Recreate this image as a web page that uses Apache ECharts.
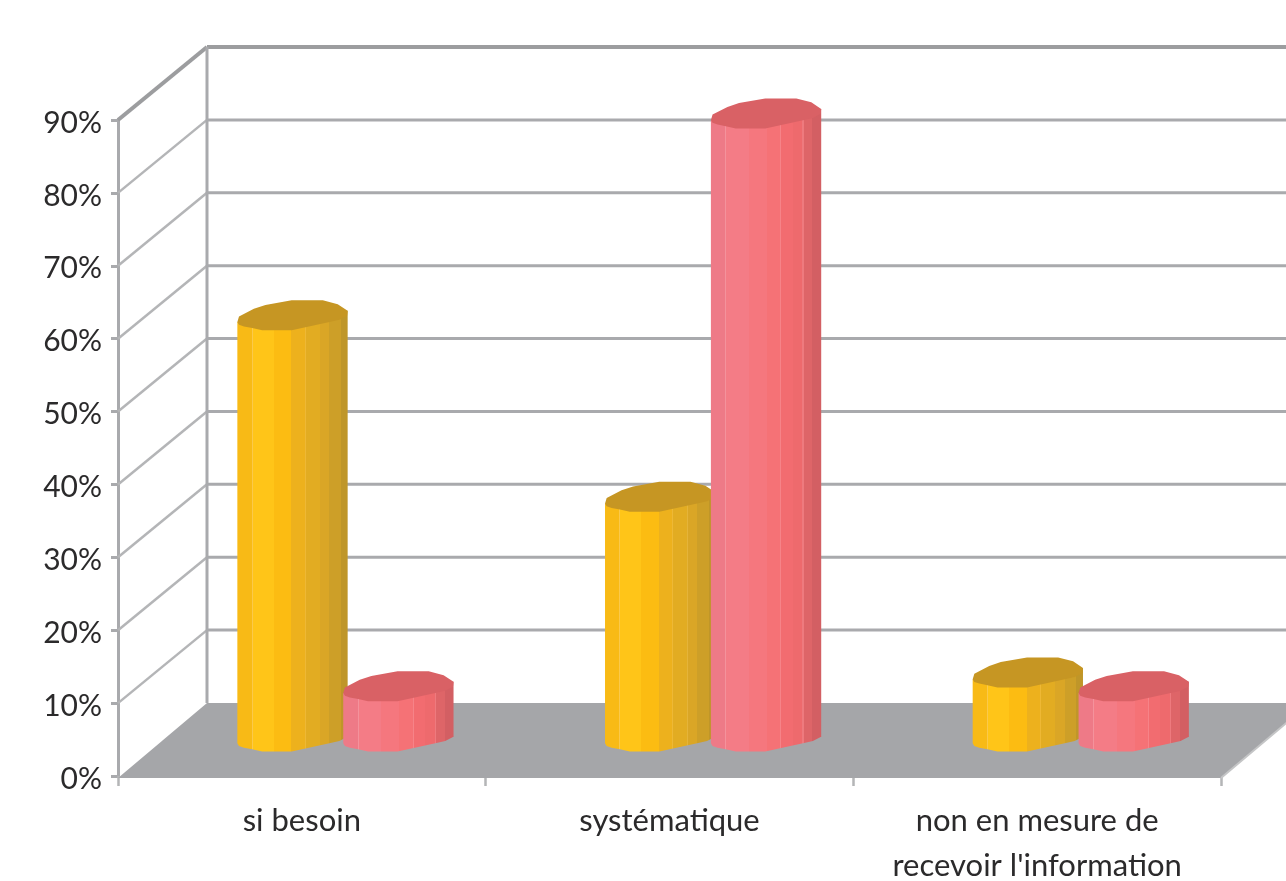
<!DOCTYPE html>
<html>
<head>
<meta charset="utf-8">
<style>html,body{margin:0;padding:0;background:#fff}#chart{width:1286px;height:881px}</style>
<script src="https://cdn.jsdelivr.net/npm/echarts@6/dist/echarts.min.js"></script>
</head>
<body>
<div id="chart"></div>
<script>
// Chart values, in percent
const categories = ['si besoin', 'systématique', "non en mesure de\nrecevoir l'information"];
const yellowValues = [57.8, 32.9, 8.8];
const redValues = [6.9, 85.5, 6.9];
const tickValues = [0, 10, 20, 30, 40, 50, 60, 70, 80, 90];

// Oblique projection of the box: how far the back wall sits from the front plane
const DEPTH_X = 89;
const DEPTH_Y = -73;
const CYL_DEPTH = 0.54;
const CYL_WIDTH_RATIO = 0.3;
const CYL_CAP_HALF = 15;

// Faceted cap outline, in units of half width / half height, clockwise from the left
const capOutline = [
  [-1, .45], [-.97, .08], [-.70, -.43], [-.49, -.69], [-.015, -1], [.55, -1], [.82, -.74], [1, -.30],
  [.99, .03], [.85, .30], [.67, .45], [-.015, 1], [-.55, 1], [-.73, .85], [-.88, .74], [-.97, .63]
];
const frontOutline = capOutline.slice(8);

// Vertical facets of each cylinder: [end of facet across the width, colour]
const yellowFacets = [[.13, '#F8BA16'], [.14, '#FBC94A'], [.33, '#FFC518'], [.49, '#FCBC12'], [.61, '#EDB11D'],
  [.62, '#EEB835'], [.745, '#E2AC22'], [.75, '#E5B43A'], [.835, '#DAA626'], [.94, '#CD9F28'], [1, '#BF9629']];
const redFacets = [[.13, '#EE7A87'], [.14, '#F4929C'], [.345, '#F47C86'], [.51, '#F5777E'], [.63, '#F57276'],
  [.64, '#F68388'], [.74, '#F26C70'], [.83, '#EE6A6D'], [.84, '#EE7A7E'], [.92, '#DE6568'], [1, '#D35F63']];
const yellowCap = '#C69623';
const redCap = '#D96165';

const wallColor = '#A9AAAD';
const diagColor = '#B4B5B7';
const floorColor = '#A5A6A9';
const textColor = '#2B2A2B';

function facetGradient(facets) {
  const stops = [];
  let start = 0;
  facets.forEach(([end, color]) => {
    stops.push({ offset: start, color }, { offset: end, color });
    start = end;
  });
  return { type: 'linear', x: 0, y: 0, x2: 1, y2: 0, colorStops: stops };
}

// Draws one cylinder standing about halfway into the floor's depth
function cylinderSeries(values, side, facets, capColor, name) {
  return {
    name,
    type: 'custom',
    z: 5,
    encode: { x: 0, y: 1 },
    data: values.map((v, i) => [i, v]),
    renderItem(params, api) {
      const cat = api.value(0);
      const top = api.coord([cat, api.value(1)]);
      const base = api.coord([cat, 0]);
      const w = api.size([1, 0])[0] * CYL_WIDTH_RATIO;
      const cx = top[0] + DEPTH_X * 0.49 + side * w * 0.48;
      const topY = top[1] + DEPTH_Y * CYL_DEPTH;
      const baseY = base[1] + DEPTH_Y * CYL_DEPTH;
      const hw = w / 2;
      const bodyPts = [[cx - hw, topY + .45 * CYL_CAP_HALF], [cx + hw, topY - .3 * CYL_CAP_HALF]];
      bodyPts.push([cx + hw, baseY + .03 * CYL_CAP_HALF]);
      frontOutline.forEach(p => bodyPts.push([cx + p[0] * hw, baseY + p[1] * CYL_CAP_HALF]));
      bodyPts.push([cx - hw, baseY + .45 * CYL_CAP_HALF]);
      const capPts = capOutline.map(p => [cx + p[0] * hw, topY + p[1] * CYL_CAP_HALF]);
      return {
        type: 'group',
        children: [
          { type: 'polygon', shape: { points: bodyPts }, style: { fill: facetGradient(facets) } },
          { type: 'polygon', shape: { points: capPts }, style: { fill: capColor } }
        ]
      };
    }
  };
}

const option = {
  animation: false,
  backgroundColor: '#ffffff',
  grid: { left: 118, right: 65, top: 120, bottom: 105, containLabel: false, outerBoundsMode: 'none' },
  xAxis: {
    type: 'category',
    data: categories,
    boundaryGap: true,
    axisLine: { show: false },
    axisTick: { show: true, alignWithLabel: false, length: 10, lineStyle: { color: '#B4B5B7', width: 2.5 } },
    axisLabel: {
      interval: 0, color: textColor, fontFamily: 'Lato', fontSize: 31, lineHeight: 45, margin: 22
    }
  },
  yAxis: {
    type: 'value',
    min: 0,
    max: 90,
    interval: 10,
    axisLine: { show: true, lineStyle: { color: wallColor, width: 3 } },
    axisTick: { show: true, length: 7, lineStyle: { color: wallColor, width: 3 } },
    splitLine: { show: false },
    axisLabel: {
      formatter: v => `{pct|${v}%}`,
      margin: 16,
      rich: { pct: { color: textColor, fontFamily: 'Lato', fontSize: 30, padding: [6, 0, 0, 0] } }
    }
  },
  series: [
    {
      // Side and back wall gridlines at every tick
      name: 'walls',
      type: 'custom',
      z: 1,
      encode: { y: 0 },
      data: tickValues.map(v => [v]),
      renderItem(params, api) {
        const v = api.value(0);
        const y = api.coord([0, v])[1];
        const cs = params.coordSys;
        const last = v === tickValues[tickValues.length - 1];
        const children = [];
        if (v !== 0) {
          children.push({
            type: 'line',
            shape: { x1: cs.x, y1: y, x2: cs.x + DEPTH_X, y2: y + DEPTH_Y },
            style: { stroke: last ? '#9C9D9F' : diagColor, lineWidth: last ? 4 : 2.5 }
          });
          children.push({
            type: 'line',
            shape: { x1: cs.x + DEPTH_X, y1: y + DEPTH_Y, x2: cs.x + cs.width + DEPTH_X, y2: y + DEPTH_Y },
            style: { stroke: last ? '#9C9D9F' : wallColor, lineWidth: last ? 4 : 3 }
          });
        }
        if (last) {
          children.push({
            type: 'line',
            shape: { x1: cs.x + DEPTH_X, y1: y + DEPTH_Y, x2: cs.x + DEPTH_X, y2: cs.y + cs.height + DEPTH_Y },
            style: { stroke: wallColor, lineWidth: 3 }
          });
        }
        return { type: 'group', children };
      }
    },
    {
      // Floor of the box
      name: 'floor',
      type: 'custom',
      z: 2,
      encode: { y: 0 },
      data: [[0]],
      renderItem(params, api) {
        const y = api.coord([0, api.value(0)])[1];
        const cs = params.coordSys;
        return {
          type: 'group',
          children: [
            {
              type: 'polygon',
              shape: {
                points: [[cs.x, y + 2], [cs.x + DEPTH_X, y + DEPTH_Y], [cs.x + cs.width + DEPTH_X, y + DEPTH_Y], [cs.x + cs.width, y + 2]]
              },
              style: { fill: floorColor }
            },
            {
              type: 'line',
              shape: { x1: cs.x + cs.width, y1: y + 2, x2: cs.x + cs.width + DEPTH_X, y2: y + DEPTH_Y },
              style: { stroke: '#C4C5C6', lineWidth: 2 }
            }
          ]
        };
      }
    },
    cylinderSeries(yellowValues, -1, yellowFacets, yellowCap, 'yellow'),
    cylinderSeries(redValues, 1, redFacets, redCap, 'red')
  ]
};

const chart = echarts.init(document.getElementById('chart'));
chart.setOption(option);
</script>
</body>
</html>
